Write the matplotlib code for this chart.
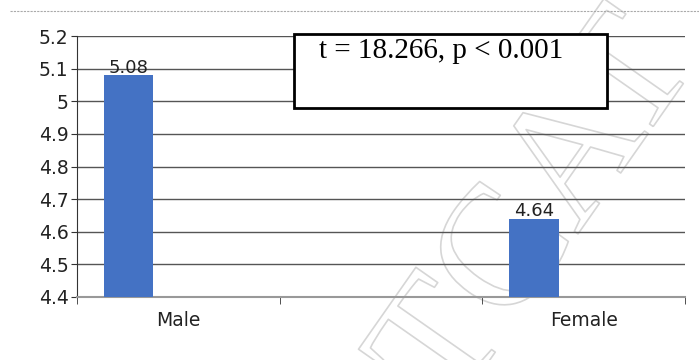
import matplotlib.pyplot as plt
import matplotlib.patheffects as pe
from matplotlib.patches import Rectangle
import numpy as np

# data
categories = ['Male', '', 'Female']
means = [5.08, np.nan, 4.64]
labels = ['5.08', '', '4.64']
y_ticks = [4.4, 4.5, 4.6, 4.7, 4.8, 4.9, 5.0, 5.1, 5.2]
y_tick_labels = ['4.4', '4.5', '4.6', '4.7', '4.8', '4.9', '5', '5.1', '5.2']
stat_text = 't = 18.266, p < 0.001'

fig = plt.figure(figsize=(6.99, 3.6), dpi=100)

# faint outlined watermark, behind the chart
fig.text(540 / 699, 1 - 215 / 360, 'TCAT', fontsize=125, family='Liberation Serif', rotation=55,
         color='none', ha='center', va='center', zorder=-1,
         path_effects=[pe.Stroke(linewidth=1.2, foreground='#d6d6d6')])

# page line at the top
fig.add_artist(plt.Line2D([0.015, 1.0], [0.97, 0.97], color='#aaaaaa', lw=0.8, ls=(0, (2, 1))))

ax = fig.add_axes([77 / 699, 1 - 297 / 360, (685 - 77) / 699, (297 - 36) / 360])
ax.patch.set_alpha(0)

x = np.arange(len(categories))
bw = 0.246
ax.bar(x - bw, means, width=bw, color='#4472c4', zorder=3)
for xi, v, lab in zip(x, means, labels):
    if lab:
        ax.text(xi - bw, v - 0.005, lab, ha='center', va='bottom', fontsize=13, color='#222222', zorder=4)

ax.set_ylim(4.4, 5.2)
ax.set_xlim(-0.5, 2.5)
ax.set_yticks(y_ticks)
ax.set_yticklabels(y_tick_labels, fontsize=13.5, color='#222222')
ax.set_xticks(x)
ax.set_xticklabels(categories, fontsize=13.5, color='#222222')
ax.set_xticks([-0.5, 0.5, 1.5, 2.5], minor=True)
ax.tick_params(axis='x', which='major', length=0, pad=10)
ax.tick_params(axis='x', which='minor', length=5, direction='out', color='#333333')
ax.tick_params(axis='y', length=4, direction='out', color='#333333', pad=2)

ax.yaxis.grid(True, color='#555555', lw=1)
ax.set_axisbelow(True)
for s in ['top', 'right']:
    ax.spines[s].set_visible(False)
ax.spines['left'].set_linestyle((0, (1, 1)))
ax.spines['left'].set_color('#333333')
ax.spines['bottom'].set_color('#999999')
ax.spines['bottom'].set_linewidth(1.5)

# statistics box
fig.add_artist(Rectangle((294 / 699, 1 - 108 / 360), (607 - 294) / 699, (108 - 34) / 360,
                         transform=fig.transFigure, fc='white', ec='black', lw=2, zorder=5))
fig.text(319 / 699, 1 - 38 / 360, stat_text, fontsize=21, family='Liberation Serif',
         ha='left', va='top', zorder=6)

fig.savefig('out.png', dpi=100)
